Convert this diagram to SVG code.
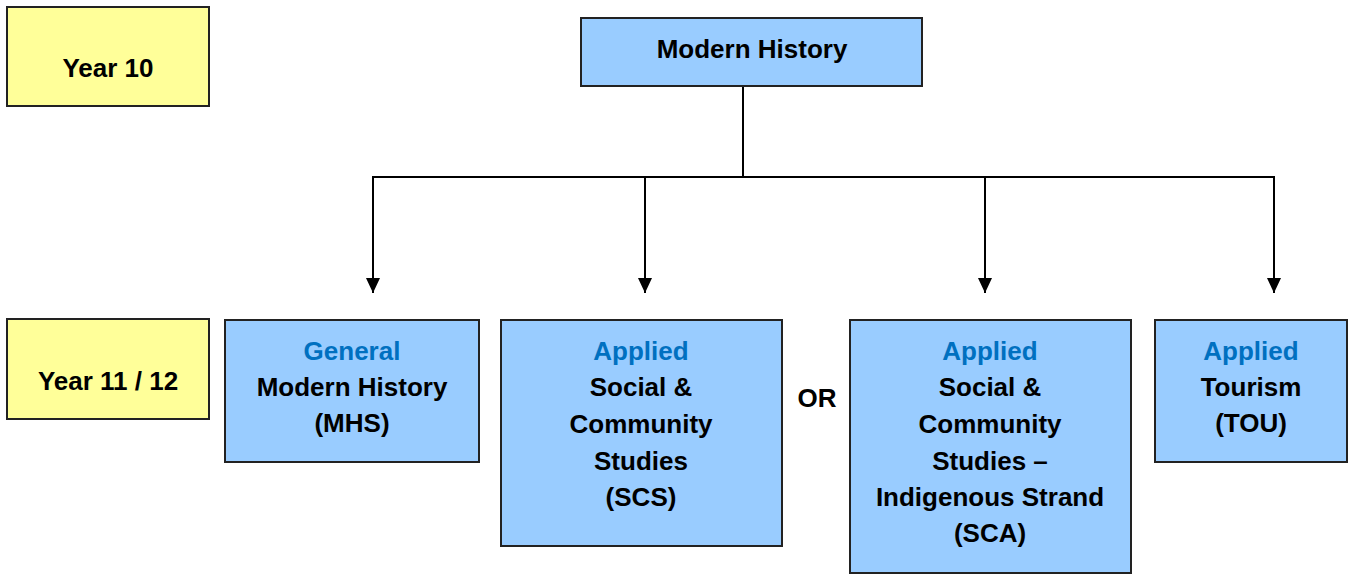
<svg xmlns="http://www.w3.org/2000/svg" width="1355" height="574" viewBox="0 0 1355 574">
<style>
.yr{fill:#FFFF99;stroke:#222;stroke-width:2}
.bx{fill:#99CCFF;stroke:#222;stroke-width:2}
text{font-family:"Liberation Sans",Arial,sans-serif;font-weight:bold;font-size:26px;text-anchor:middle;fill:#000}
.bl{fill:#0070C0}
.ln{stroke:#000;stroke-width:2;fill:none}
</style>
<defs>
<marker id="ah" markerWidth="15" markerHeight="14" refX="15" refY="7" orient="auto" markerUnits="userSpaceOnUse" viewBox="0 0 15 14">
<path d="M0,0 L15,7 L0,14 Z" fill="#000"/>
</marker>
</defs>
<rect width="1355" height="574" fill="#fff"/>
<g id="connectors">
<line class="ln" x1="743" y1="87" x2="743" y2="177"/>
<line class="ln" x1="372" y1="177" x2="1275" y2="177"/>
<line class="ln" x1="373" y1="177" x2="373" y2="293" marker-end="url(#ah)"/>
<line class="ln" x1="645" y1="177" x2="645" y2="293" marker-end="url(#ah)"/>
<line class="ln" x1="985" y1="177" x2="985" y2="293" marker-end="url(#ah)"/>
<line class="ln" x1="1274" y1="177" x2="1274" y2="293" marker-end="url(#ah)"/>
</g>
<g id="year10">
<rect class="yr" x="7" y="7" width="202" height="99"/>
<text x="108" y="77">Year 10</text>
</g>
<g id="year1112">
<rect class="yr" x="7" y="319" width="202" height="100"/>
<text x="108" y="390">Year 11 / 12</text>
</g>
<g id="modern-history">
<rect class="bx" x="581" y="18" width="341" height="68"/>
<text x="752" y="58">Modern History</text>
</g>
<g id="mhs">
<rect class="bx" x="225" y="320" width="254" height="142"/>
<text x="352" y="360" class="bl">General</text>
<text x="352" y="396">Modern History</text>
<text x="352" y="432">(MHS)</text>
</g>
<g id="scs">
<rect class="bx" x="501" y="320" width="281" height="226"/>
<text x="641" y="360" class="bl">Applied</text>
<text x="641" y="396">Social &amp;</text>
<text x="641" y="433">Community</text>
<text x="641" y="470">Studies</text>
<text x="641" y="506">(SCS)</text>
</g>
<g id="or">
<text x="817" y="407">OR</text>
</g>
<g id="sca">
<rect class="bx" x="850" y="320" width="281" height="253"/>
<text x="990" y="360" class="bl">Applied</text>
<text x="990" y="396">Social &amp;</text>
<text x="990" y="433">Community</text>
<text x="990" y="470">Studies –</text>
<text x="990" y="506">Indigenous Strand</text>
<text x="990" y="542">(SCA)</text>
</g>
<g id="tou">
<rect class="bx" x="1155" y="320" width="192" height="142"/>
<text x="1251" y="360" class="bl">Applied</text>
<text x="1251" y="396">Tourism</text>
<text x="1251" y="432">(TOU)</text>
</g>
</svg>
